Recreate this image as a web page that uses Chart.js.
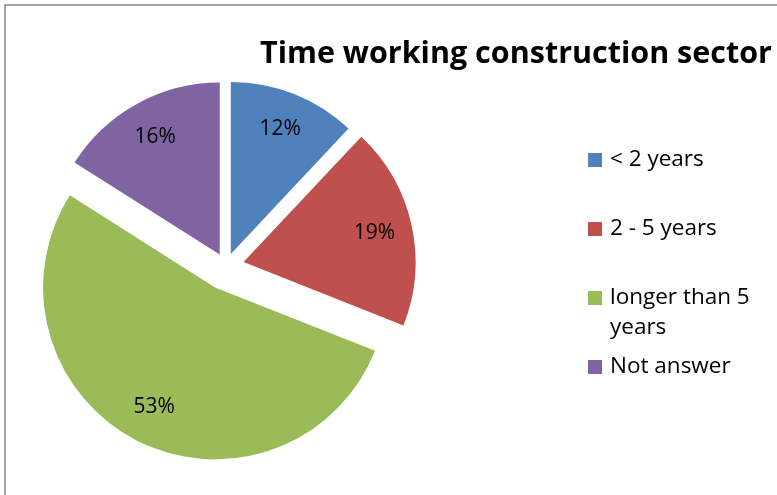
<!DOCTYPE html>
<html>
<head>
<meta charset="utf-8">
<script src="https://cdn.jsdelivr.net/npm/chart.js@4/dist/chart.umd.min.js"></script>
<style>
  html, body { margin: 0; padding: 0; background: #fff; overflow: hidden; }
  canvas { display: block; }
</style>
</head>
<body>
<canvas id="timeChart" width="777" height="495"></canvas>
<script>
const chartTitle = 'Time working construction sector';
const categories = ['< 2 years', '2 - 5 years', 'longer than 5 years', 'Not answer'];
const percentages = [12, 19, 53, 16];
const sliceColors = ['#4F81BD', '#C0504D', '#9BBB59', '#8064A2'];
// how far each slice is pulled out of the pie, px
const explode = [13, 18, 24, 13];

// chart.js offset also grows the radius of big slices, so shift them by hand
const explodedSlices = {
  id: 'explodedSlices',
  beforeDatasetDraw(chart, args) {
    const ctx = chart.ctx;
    args.meta.data.forEach((arc, i) => {
      const mid = (arc.startAngle + arc.endAngle) / 2;
      ctx.save();
      ctx.translate(Math.cos(mid) * explode[i], Math.sin(mid) * explode[i]);
      arc.draw(ctx);
      ctx.restore();
    });
    return false;
  },
};

// frame, title, % labels and legend (excel style)
const excelDecor = {
  id: 'excelDecor',
  beforeDraw(chart) {
    const ctx = chart.ctx;
    ctx.save();
    ctx.fillStyle = '#fff';
    ctx.fillRect(0, 0, chart.width, chart.height);
    ctx.strokeStyle = '#868686';
    ctx.lineWidth = 1.5;
    ctx.beginPath();
    ctx.moveTo(5, chart.height);
    ctx.lineTo(5, 5);
    ctx.lineTo(chart.width, 5);
    ctx.stroke();
    ctx.restore();
  },
  afterDraw(chart) {
    const ctx = chart.ctx;
    const meta = chart.getDatasetMeta(0);
    ctx.save();

    // title
    ctx.fillStyle = '#000';
    ctx.font = 'bold 30.5px "Open Sans"';
    ctx.textAlign = 'left';
    ctx.textBaseline = 'alphabetic';
    ctx.fillText(chartTitle, 260, 63);

    // percent labels inside slices
    ctx.font = '21px "Open Sans"';
    ctx.textAlign = 'center';
    ctx.textBaseline = 'middle';
    meta.data.forEach((arc, i) => {
      const mid = (arc.startAngle + arc.endAngle) / 2;
      const dist = explode[i] + arc.outerRadius * 0.78;
      ctx.fillText(percentages[i] + '%', arc.x + Math.cos(mid) * dist, arc.y + Math.sin(mid) * dist);
    });

    // legend
    ctx.font = '22.5px "Open Sans"';
    ctx.textAlign = 'left';
    const boxX = 588, textX = 610, maxW = 160;
    const rowY = [160, 229, 298, 367];
    categories.forEach((label, i) => {
      ctx.fillStyle = sliceColors[i];
      ctx.fillRect(boxX, rowY[i] - 7, 14, 14);
      ctx.fillStyle = '#000';
      const words = label.split(' ');
      const lines = [];
      let line = '';
      words.forEach((w) => {
        const test = line ? line + ' ' + w : w;
        if (ctx.measureText(test).width > maxW && line) {
          lines.push(line);
          line = w;
        } else {
          line = test;
        }
      });
      lines.push(line);
      lines.forEach((l, k) => ctx.fillText(l, textX, rowY[i] + k * 30));
    });
    ctx.restore();
  },
};

new Chart(document.getElementById('timeChart'), {
  type: 'pie',
  data: {
    labels: categories,
    datasets: [
      {
        data: percentages,
        backgroundColor: sliceColors,
        borderWidth: 0,
        clip: false,
      },
    ],
  },
  options: {
    responsive: false,
    animation: false,
    events: [],
    radius: 172,
    layout: {
      padding: { left: 26, right: 351, top: 66, bottom: 29 },
    },
    plugins: {
      legend: { display: false },
      title: { display: false },
      tooltip: { enabled: false },
    },
  },
  plugins: [explodedSlices, excelDecor],
});
</script>
</body>
</html>
